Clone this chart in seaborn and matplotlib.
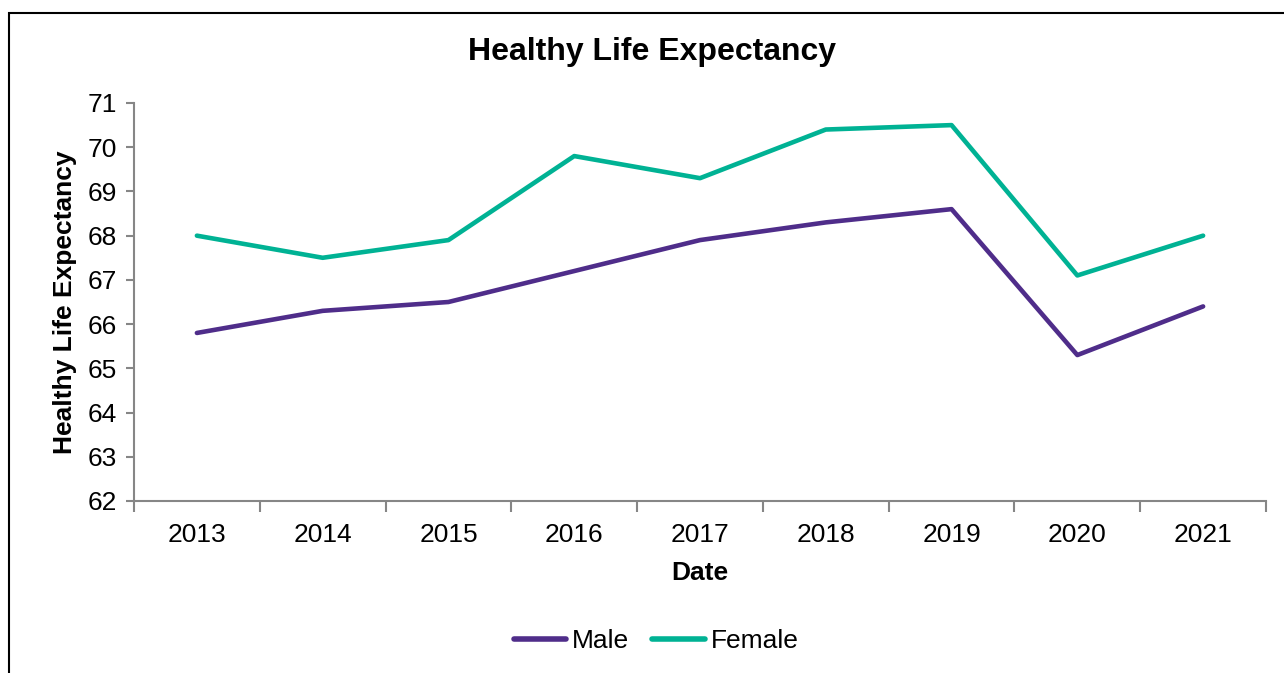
import pandas as pd
import matplotlib.pyplot as plt
import seaborn as sns
from matplotlib.patches import Rectangle

# Données
years = [2013, 2014, 2015, 2016, 2017, 2018, 2019, 2020, 2021]
male = [65.8, 66.3, 66.5, 67.2, 67.9, 68.3, 68.6, 65.3, 66.4]
female = [68.0, 67.5, 67.9, 69.8, 69.3, 70.4, 70.5, 67.1, 68.0]
series = ["Male", "Female"]
colors = {"Male": "#4F2D8A", "Female": "#00B294"}

df = pd.DataFrame({
    "Date": years * 2,
    "Healthy Life Expectancy": male + female,
    "Sex": ["Male"] * len(years) + ["Female"] * len(years),
})

sns.set_style("white")
plt.rcParams["font.family"] = ["Liberation Sans", "DejaVu Sans"]
plt.rcParams["text.color"] = "black"
plt.rcParams["axes.labelcolor"] = "black"
plt.rcParams["xtick.labelcolor"] = "black"
plt.rcParams["ytick.labelcolor"] = "black"

fig = plt.figure(figsize=(12.84, 6.73), dpi=100)
ax = fig.add_axes([134 / 1284, 1 - 501 / 673, (1266 - 134) / 1284, (501 - 103) / 673])

sns.lineplot(data=df, x="Date", y="Healthy Life Expectancy", hue="Sex",
             hue_order=series, palette=colors, linewidth=3.3, ax=ax,
             legend=False, solid_capstyle="round")

ax.set_xlim(years[0] - 0.5, years[-1] + 0.5)
ax.set_ylim(62, 71)
ax.set_yticks(range(62, 72))
ax.tick_params(axis="y", labelsize=19, length=6, color="#868686", width=1.5, pad=6, left=True)

# ticks aux limites des catégories, libellés au centre
ax.set_xticks([y - 0.5 for y in years] + [years[-1] + 0.5])
ax.set_xticklabels([])
ax.set_xticks(years, minor=True)
ax.set_xticklabels([str(y) for y in years], minor=True)
ax.tick_params(axis="x", which="major", length=8, color="#868686", width=1.5, bottom=True)
ax.tick_params(axis="x", which="minor", length=0, labelsize=19, pad=16)

for s in ["top", "right"]:
    ax.spines[s].set_visible(False)
for s in ["left", "bottom"]:
    ax.spines[s].set_color("#868686")
    ax.spines[s].set_linewidth(1.5)

ax.set_xlabel("Date", fontsize=19, fontweight="bold", labelpad=10)
ax.set_ylabel("Healthy Life Expectancy", fontsize=19, fontweight="bold", labelpad=8)

fig.text(652 / 1284, 1 - 52 / 673, "Healthy Life Expectancy", ha="center", va="center",
         fontsize=23, fontweight="bold")

handles = [plt.Line2D([], [], color=colors[s], linewidth=4, solid_capstyle="round") for s in series]
fig.legend(handles, series, loc="center", bbox_to_anchor=(656 / 1284, 1 - 641 / 673),
           ncol=2, frameon=False, fontsize=19, handlelength=2.0, handletextpad=0.2,
           columnspacing=0.9)

# cadre du graphique
fig.patches.append(Rectangle((9 / 1284, -0.1), 1.2, 1 - 13 / 673 + 0.1,
                             transform=fig.transFigure, fill=False,
                             edgecolor="black", linewidth=1.5))

fig.savefig("out.png", dpi=100)
